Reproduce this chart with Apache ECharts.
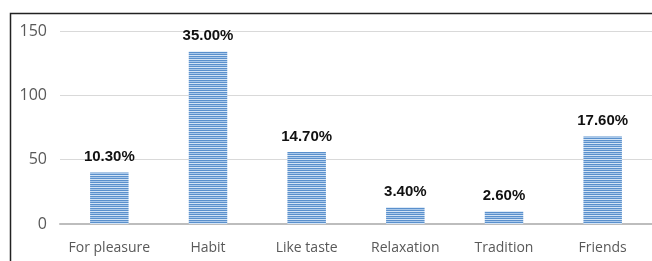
<!DOCTYPE html>
<html>
<head>
<meta charset="utf-8">
<script src="https://cdn.jsdelivr.net/npm/echarts@6/dist/echarts.min.js"></script>
<style>
  html, body { margin: 0; padding: 0; background: #fff; }
  #main { width: 652px; height: 261px; }
</style>
</head>
<body>
<div id="main"></div>
<script>
// --- Datos ---
const categories = ['For pleasure', 'Habit', 'Like taste', 'Relaxation', 'Tradition', 'Friends'];
const counts = [40, 134, 56, 13, 10, 68];
const percentLabels = ['10.30%', '35.00%', '14.70%', '3.40%', '2.60%', '17.60%'];
const yTicks = [0, 50, 100, 150];

// Textura de barras con rayas horizontales
function stripePattern() {
    const c = document.createElement('canvas');
    c.width = 4;
    c.height = 4;
    const ctx = c.getContext('2d');
    ctx.fillStyle = '#5a90cc';
    ctx.fillRect(0, 0, 4, 4);
    ctx.fillStyle = '#a9c8ea';
    ctx.fillRect(0, 1, 4, 1);
    ctx.fillStyle = '#d4e4f5';
    ctx.fillRect(0, 3, 4, 1);
    return c;
}

const chart = echarts.init(document.getElementById('main'));
const pattern = stripePattern();

chart.setOption({
    backgroundColor: '#fff',
    animation: false,
    grid: { left: 60, right: -5, top: 31, bottom: 37 },
    xAxis: {
        type: 'category',
        data: categories,
        axisTick: { show: false },
        axisLine: { lineStyle: { color: '#bdbdbd', width: 2 } },
        axisLabel: { interval: 0, color: '#595959', fontSize: 14, fontFamily: 'Open Sans', margin: 17 }
    },
    yAxis: {
        type: 'value',
        min: yTicks[0],
        max: yTicks[yTicks.length - 1],
        interval: 50,
        axisLine: { show: false },
        axisTick: { show: false },
        splitLine: { lineStyle: { color: '#d9d9d9', width: 1 } },
        axisLabel: { color: '#595959', fontSize: 16, fontFamily: 'Open Sans', margin: 13 }
    },
    series: [{
        type: 'bar',
        data: counts,
        barWidth: '39%',
        itemStyle: {
            color: { image: pattern, repeat: 'repeat' }
        },
        label: {
            show: true,
            position: 'top',
            distance: 8,
            color: '#111',
            fontWeight: 'bold',
            fontSize: 15,
            fontFamily: 'Liberation Sans',
            formatter: p => percentLabels[p.dataIndex]
        }
    }],
    graphic: [{
        type: 'rect',
        shape: { x: 10.5, y: 13.5, width: 700, height: 300 },
        style: { fill: null, stroke: '#222', lineWidth: 1.5 },
        z: 100
    }]
});
</script>
</body>
</html>
